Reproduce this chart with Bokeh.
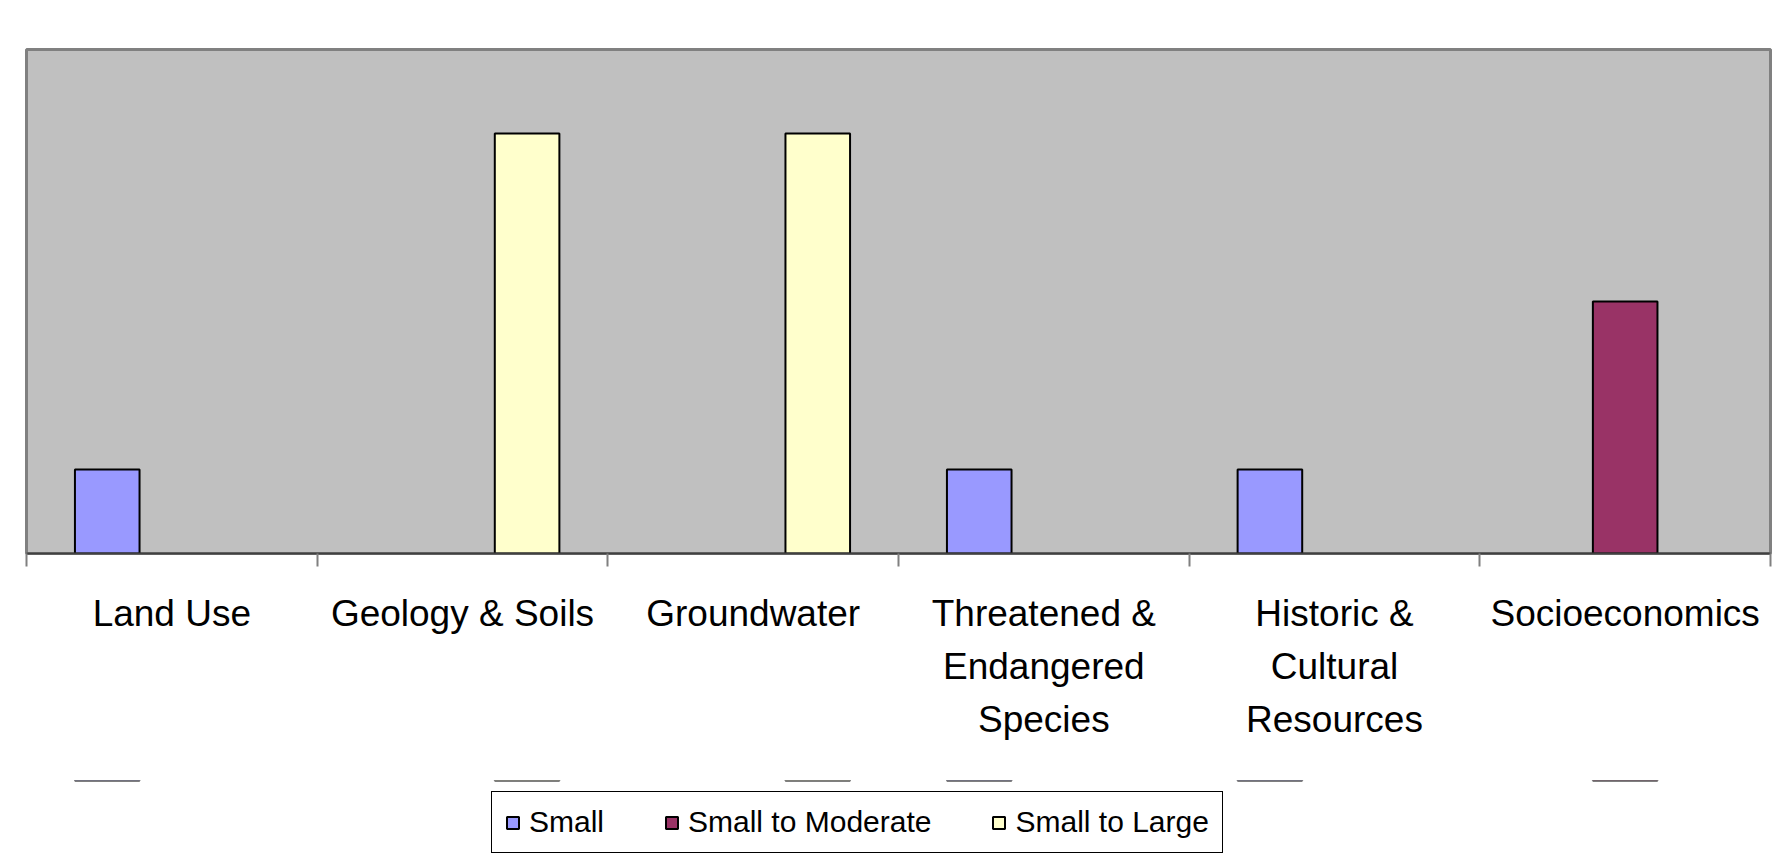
from bokeh.plotting import figure
from bokeh.layouts import column
from bokeh.models import (Range1d, LinearAxis, FixedTicker, Legend, LegendItem, ColumnDataSource)
from bokeh.transform import dodge
from bokeh.embed import file_html
from bokeh.resources import INLINE

categories = ["Land Use", "Geology & Soils", "Groundwater",
              "Threatened & Endangered Species", "Historic & Cultural Resources",
              "Socioeconomics"]
tick_labels = ["Land Use", "Geology & Soils", "Groundwater",
               "Threatened &\nEndangered\nSpecies", "Historic &\nCultural\nResources",
               "Socioeconomics"]
series_names = ["Small", "Small to Moderate", "Small to Large"]
small = [1, 0, 0, 1, 1, 0]
small_to_moderate = [0, 0, 0, 0, 0, 3]
small_to_large = [0, 5, 5, 0, 0, 0]
series_values = [small, small_to_moderate, small_to_large]
colors = ["#9999FF", "#993366", "#FFFFCC"]

FONT = "Liberation Sans"
n = len(categories)
centers = [i + 0.5 for i in range(n)]
bounds = list(range(n + 1))
bar_w = 1 / 4.5

# ---------------- main chart ----------------
p = figure(x_range=Range1d(0, n), y_range=Range1d(0, 6),
           width=1782, height=780,
           output_backend="svg", toolbar_location=None,
           x_axis_location=None, y_axis_location=None,
           min_border_left=26, min_border_right=12, min_border_top=49,
           min_border_bottom=227)
p.background_fill_color = "#C0C0C0"
p.border_fill_color = "white"
p.outline_line_color = "#808080"
p.outline_line_width = 3
p.xgrid.visible = False
p.ygrid.visible = False

# axis carrying tick marks at category boundaries (no labels)
tick_axis = LinearAxis(ticker=FixedTicker(ticks=bounds),
                       major_label_overrides={b: "" for b in bounds},
                       major_label_text_font_size="1px", major_label_standoff=0,
                       major_tick_out=13, major_tick_in=0,
                       major_tick_line_color="#808080", major_tick_line_width=2,
                       minor_tick_line_color=None,
                       axis_line_color="#404040", axis_line_width=2)
p.add_layout(tick_axis, "below")

# category names, one axis per text line, at category centres
split_labels = [t.split("\n") for t in tick_labels]
standoffs = [20, 3, 3]
for line_no, standoff in enumerate(standoffs):
    ticks = [c for c, parts in zip(centers, split_labels) if len(parts) > line_no]
    texts = [parts[line_no] for parts in split_labels if len(parts) > line_no]
    ax = LinearAxis(ticker=FixedTicker(ticks=ticks),
                    major_tick_line_color=None, axis_line_color=None,
                    minor_tick_line_color=None,
                    major_label_overrides=dict(zip(ticks, texts)),
                    major_label_text_font=FONT,
                    major_label_text_font_size="37px",
                    major_label_text_color="black",
                    major_label_standoff=standoff)
    p.add_layout(ax, "below")


def add_bars(fig):
    rs = []
    for i, (name, vals, color) in enumerate(zip(series_names, series_values, colors)):
        xs = [c for c, v in zip(centers, vals) if v]
        tops = [v for v in vals if v]
        src = ColumnDataSource(dict(x=xs, top=tops))
        r = fig.vbar(x=dodge("x", (i - 1) * bar_w), top="top", bottom=0,
                     width=bar_w, source=src, fill_color=color,
                     line_color="black", line_width=2)
        rs.append(r)
    return rs


add_bars(p)

# ---------------- legend strip ----------------
# same series drawn into a strip whose y-range lies below the bars, so only the legend shows
q = figure(x_range=Range1d(0, n), y_range=Range1d(-2, -1),
           width=1782, height=80,
           output_backend="svg", toolbar_location=None,
           x_axis_location=None, y_axis_location=None,
           min_border_left=26, min_border_right=12, min_border_top=0,
           min_border_bottom=0)
q.background_fill_color = "white"
q.border_fill_color = "white"
q.outline_line_color = None
q.xgrid.visible = False
q.ygrid.visible = False
legend_renderers = add_bars(q)

legend = Legend(items=[LegendItem(label=name, renderers=[r])
                       for name, r in zip(series_names, legend_renderers)],
                orientation="horizontal", location=(465, 7),
                label_text_font=FONT, label_text_font_size="30px",
                label_text_color="black",
                glyph_width=15, glyph_height=15, spacing=60, label_standoff=9,
                padding=13, border_line_color="black", border_line_alpha=1.0,
                border_line_width=1, background_fill_color="white",
                background_fill_alpha=1.0, margin=0)
q.add_layout(legend, "center")

layout = column(p, q, spacing=0)
open("out.html", "w").write(file_html(layout, INLINE))
